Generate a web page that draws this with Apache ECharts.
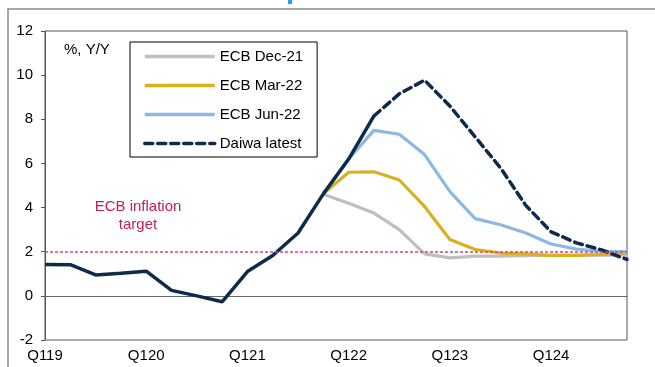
<!DOCTYPE html>
<html>
<head>
<meta charset="utf-8">
<script src="https://cdn.jsdelivr.net/npm/echarts@6/dist/echarts.min.js"></script>
<style>html,body{margin:0;padding:0;background:#fff;}#c{width:655px;height:367px;}</style>
</head>
<body>
<div id="c"></div>
<script>
var quarters = ['Q119','Q219','Q319','Q419','Q120','Q220','Q320','Q420','Q121','Q221','Q321','Q421',
                'Q122','Q222','Q322','Q422','Q123','Q223','Q323','Q423','Q124','Q224','Q324','Q424'];
var actual   = [1.42,1.41,0.95,1.02,1.12,0.25,0.0,-0.27,1.1,1.83,2.85,4.62,6.2,8.15,null,null,null,null,null,null,null,null,null,null];
var ecbDec21 = [null,null,null,null,null,null,null,null,null,null,null,4.6,4.2,3.75,3.0,1.9,1.72,1.8,1.8,1.82,1.84,1.84,1.85,1.85];
var ecbMar22 = [null,null,null,null,null,null,null,null,null,null,null,4.62,5.6,5.62,5.25,4.05,2.55,2.1,1.94,1.9,1.83,1.83,1.88,1.95];
var ecbJun22 = [null,null,null,null,null,null,null,null,null,null,null,4.62,6.2,7.5,7.32,6.4,4.72,3.5,3.22,2.85,2.35,2.12,2.02,2.0];
var daiwa    = [null,null,null,null,null,null,null,null,null,null,null,null,null,8.15,9.15,9.77,8.6,7.2,5.8,4.1,2.9,2.4,2.08,1.65];
var inflationTarget = 2;
var yTicks = {min:-2, max:12, interval:2};

var FONT = 'Liberation Sans, Arial, sans-serif';
var chart = echarts.init(document.getElementById('c'), null, {renderer:'canvas'});
chart.setOption({
  animation:false,
  backgroundColor:'#fff',
  textStyle:{fontFamily:FONT},
  grid:{left:45, right:28, top:31, bottom:27, show:true, borderColor:'#555', borderWidth:1, containLabel:false},
  legend:{
    orient:'vertical', left:130, top:42,
    data:['ECB Dec-21','ECB Mar-22','ECB Jun-22','Daiwa latest'],
    itemWidth:70, itemHeight:14, itemGap:14,
    padding:[7,14,6,13],
    borderColor:'#000', borderWidth:1, backgroundColor:'#fff',
    itemStyle:{opacity:0},
    lineStyle:{width:3.5},
    textStyle:{fontFamily:FONT, fontSize:15, color:'#000'},
    selectedMode:false
  },
  xAxis:{
    type:'category', data:quarters, boundaryGap:false,
    axisLine:{show:true, lineStyle:{color:'#555'}},
    axisTick:{show:false},
    axisLabel:{interval:3, color:'#000', fontSize:15, fontFamily:FONT, margin:8},
    splitLine:{show:false}
  },
  yAxis:{
    type:'value', min:yTicks.min, max:yTicks.max, interval:yTicks.interval,
    axisLine:{show:true, lineStyle:{color:'#555'}},
    axisTick:{show:true, inside:false, length:4, lineStyle:{color:'#555'}},
    axisLabel:{color:'#000', fontSize:15, fontFamily:FONT, margin:12},
    splitLine:{show:false}
  },
  graphic:[
    {type:'rect', shape:{x:8, y:9, width:700, height:400}, style:{fill:'none', stroke:'#8a8a8a', lineWidth:1.5}, z:-1, silent:true},
    {type:'rect', shape:{x:288, y:0, width:4, height:4}, style:{fill:'#1aa7ec'}, silent:true},
    {type:'text', left:64, top:42, style:{text:'%, Y/Y', font:'15px ' + FONT, fill:'#000'}},
    {type:'text', x:138, y:199, style:{text:'ECB inflation', font:'15px ' + FONT, fill:'#C41E5A', align:'center', verticalAlign:'top'}},
    {type:'text', x:138, y:217, style:{text:'target', font:'15px ' + FONT, fill:'#C41E5A', align:'center', verticalAlign:'top'}}
  ],
  series:[
    {name:'ECB Dec-21', type:'line', data:ecbDec21, symbol:'none', z:2,
     lineStyle:{color:'#BFBFBF', width:3.2}, itemStyle:{color:'#BFBFBF'},
     markLine:{silent:true, symbol:'none', label:{show:false}, z:1,
       lineStyle:{color:'#666', width:1, type:'solid'}, data:[{yAxis:0}]}},
    {name:'ECB Mar-22', type:'line', data:ecbMar22, symbol:'none', z:3,
     lineStyle:{color:'#D9B01E', width:3.2}, itemStyle:{color:'#D9B01E'}},
    {name:'ECB Jun-22', type:'line', data:ecbJun22, symbol:'none', z:4,
     lineStyle:{color:'#8DB8E4', width:3.2}, itemStyle:{color:'#8DB8E4'},
     markLine:{silent:true, symbol:'none', label:{show:false}, z:10,
       lineStyle:{color:'#D04A7A', width:1.5, type:[3,2]}, data:[{yAxis:inflationTarget}]}},
    {name:'Actual', type:'line', data:actual, symbol:'none', z:5,
     lineStyle:{color:'#0E2A4D', width:3.5}, itemStyle:{color:'#0E2A4D'}},
    {name:'Daiwa latest', type:'line', data:daiwa, symbol:'none', z:6,
     lineStyle:{color:'#0E2A4D', width:3.5, type:[8,5], cap:'round'}, itemStyle:{color:'#0E2A4D'}}
  ]
});
</script>
</body>
</html>
